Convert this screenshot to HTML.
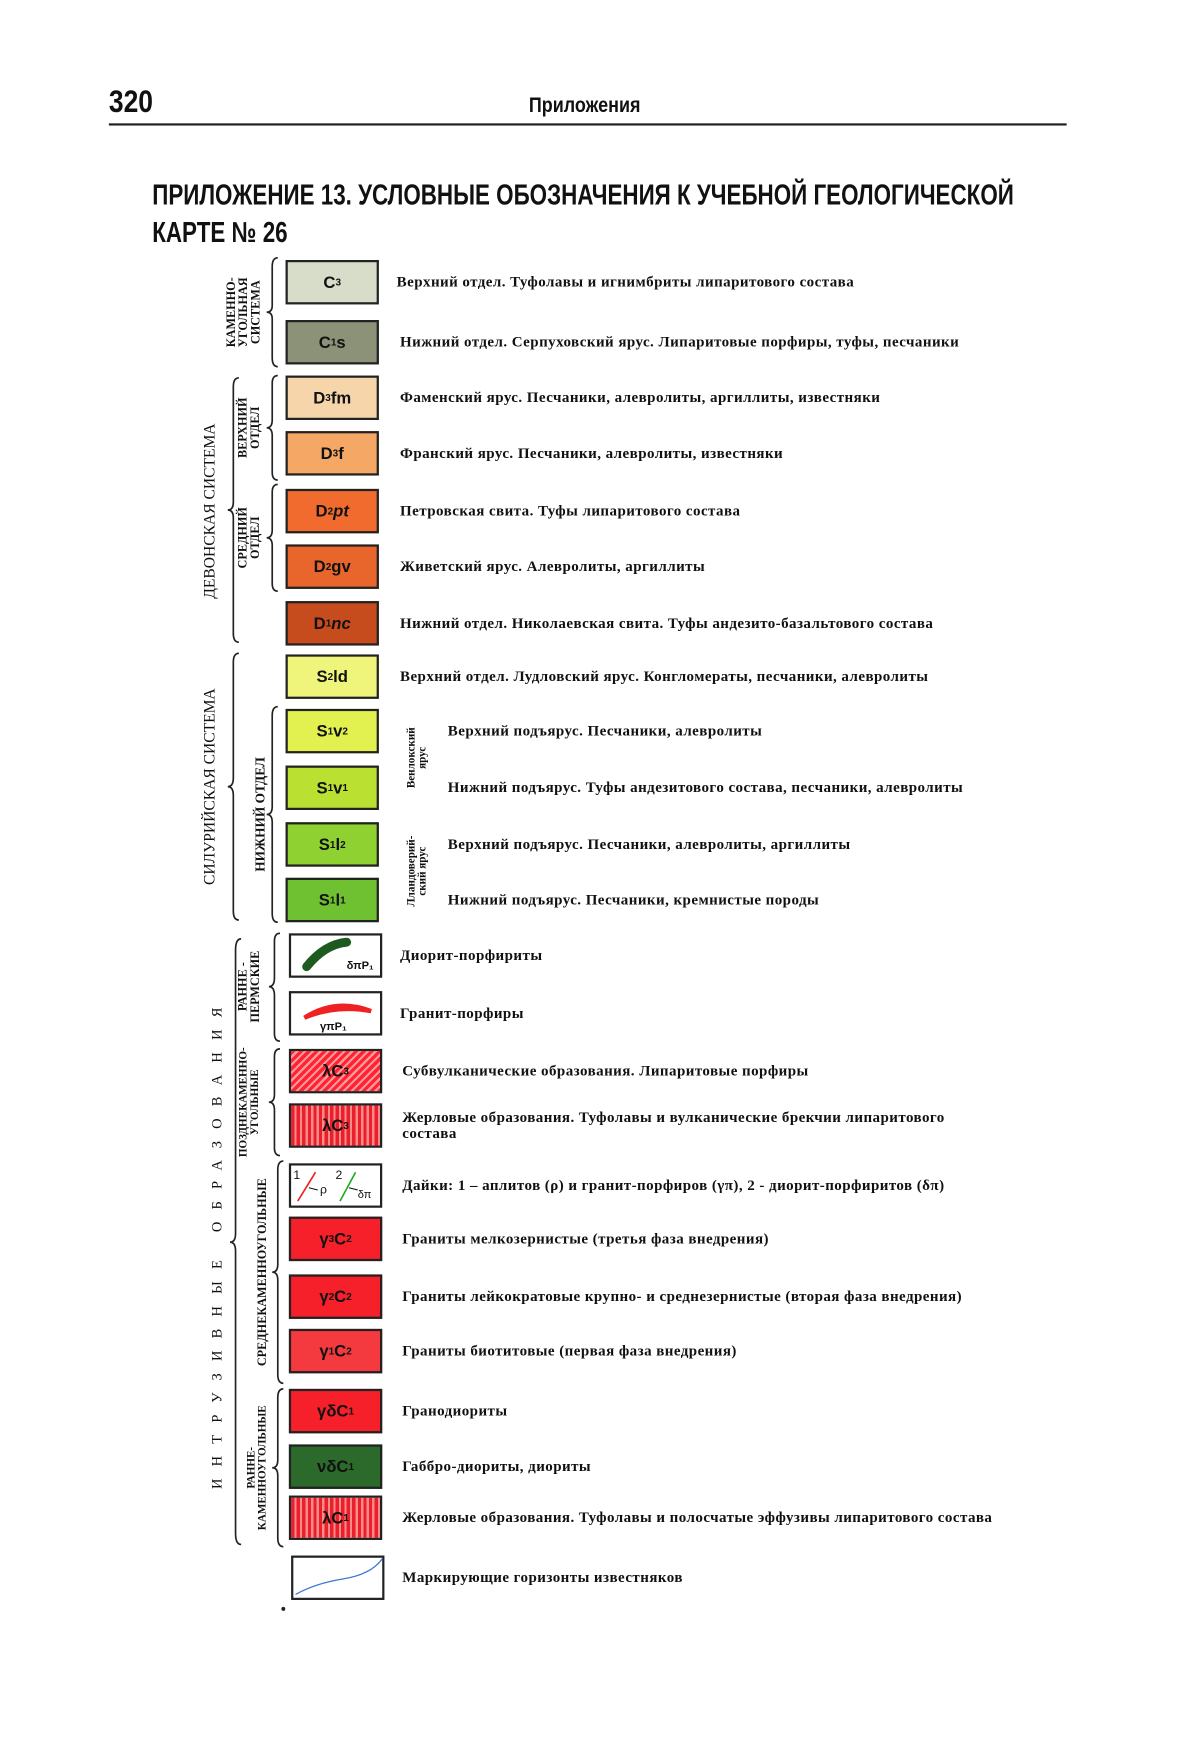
<!DOCTYPE html>
<html><head><meta charset="utf-8"><style>
body{margin:0;background:#fff;width:1200px;height:1747px;overflow:hidden;position:relative}
#w{position:absolute;left:0;top:0;width:1080px;height:1573px;transform:scale(1.1111);transform-origin:0 0;font-family:"Liberation Serif","DejaVu Serif",serif}
.a{position:absolute;white-space:nowrap}
.sw{position:absolute;width:84px;height:40px;border:2px solid #222;box-sizing:border-box;font:bold 15px "Liberation Sans",sans-serif;display:flex;align-items:center;justify-content:center;color:#111}
.sw sub{font-size:9px;vertical-align:-3px}
.t{position:absolute;font-weight:bold;font-size:13.5px;letter-spacing:.4px;color:#111;white-space:nowrap;transform:translateY(-50%)}
.v{position:absolute;font-weight:bold;color:#111;white-space:nowrap;text-align:center;transform:translate(-50%,-50%) rotate(-90deg);line-height:1.0}
.h{font-family:"Liberation Sans",sans-serif;font-weight:bold;color:#111}
</style></head><body><div id="w">
<div class="a h" style="left:98px;top:76px;font-size:28px;transform:scaleX(.85);transform-origin:0 0">320</div>
<div class="a h" style="left:476px;top:85px;font-size:19px;transform:scaleX(.85);transform-origin:0 0">Приложения</div>
<div class="a" style="left:98px;top:111px;width:862px;height:2px;background:#222"></div>
<div class="a h" style="left:137px;top:158px;font-size:26px;line-height:34px;transform:scaleX(.775);transform-origin:0 0;white-space:nowrap">ПРИЛОЖЕНИЕ 13. УСЛОВНЫЕ ОБОЗНАЧЕНИЯ К УЧЕБНОЙ ГЕОЛОГИЧЕСКОЙ<br>КАРТЕ № 26</div>

<svg class="a" style="left:0;top:0" width="1080" height="1573" fill="none" stroke="#222" stroke-width="1.5">
<path d="M250 232 Q245 232 245 240 L245 275 Q245 281 240 281 Q245 281 245 287 L245 322 Q245 330 250 330"/>
<path d="M215 340 Q210 340 210 348 L210 452 Q210 459 205 459 Q210 459 210 466 L210 570 Q210 578 215 578"/>
<path d="M250 338 Q245 338 245 345 L245 378 Q245 385 240 385 Q245 385 245 392 L245 425 Q245 432 250 432"/>
<path d="M250 436 Q245 436 245 443 L245 477 Q245 484 240 484 Q245 484 245 491 L245 525 Q245 532 250 532"/>
<path d="M215 588 Q210 588 210 596 L210 700 Q210 708 205 708 Q210 708 210 716 L210 820 Q210 828 215 828"/>
<path d="M250 636 Q245 636 245 644 L245 726 Q245 733 240 733 Q245 733 245 740 L245 822 Q245 830 250 830"/>
<path d="M217 845 Q212 845 212 855 L212 1110 Q212 1118 207 1118 Q212 1118 212 1126 L212 1380 Q212 1390 217 1390"/>
<path d="M252 840 Q247 840 247 847 L247 880 Q247 888 242 888 Q247 888 247 896 L247 930 Q247 937 252 937"/>
<path d="M252 944 Q247 944 247 951 L247 985 Q247 992 242 992 Q247 992 247 999 L247 1033 Q247 1040 252 1040"/>
<path d="M255 1045 Q250 1045 250 1053 L250 1138 Q250 1145 245 1145 Q250 1145 250 1152 L250 1237 Q250 1245 255 1245"/>
<path d="M255 1250 Q250 1250 250 1258 L250 1314 Q250 1321 245 1321 Q250 1321 250 1328 L250 1384 Q250 1392 255 1392"/>
<circle cx="255" cy="1448" r="1" fill="#222"/>
</svg>

<div class="v" style="left:220px;top:281px;font-size:11px">КАМЕННО-<br>УГОЛЬНАЯ<br>СИСТЕМА</div>
<div class="v" style="left:190px;top:460px;font-size:14px;font-weight:normal">ДЕВОНСКАЯ СИСТЕМА</div>
<div class="v" style="left:225px;top:385px;font-size:11px">ВЕРХНИЙ<br>ОТДЕЛ</div>
<div class="v" style="left:225px;top:484px;font-size:11px">СРЕДНИЙ<br>ОТДЕЛ</div>
<div class="v" style="left:190px;top:708px;font-size:14px;font-weight:normal">СИЛУРИЙСКАЯ СИСТЕМА</div>
<div class="v" style="left:234px;top:733px;font-size:12px">НИЖНИЙ ОТДЕЛ</div>
<div class="v" style="left:376px;top:682px;font-size:10px">Венлокский<br>ярус</div>
<div class="v" style="left:376px;top:784px;font-size:10px">Лландоверий-<br>ский ярус</div>
<div class="v" style="left:195px;top:1118px;font-size:13px;font-weight:normal;letter-spacing:11px">ИНТРУЗИВНЫЕ ОБРАЗОВАНИЯ</div>
<div class="v" style="left:225px;top:888px;font-size:11px">РАННЕ -<br>ПЕРМСКИЕ</div>
<div class="v" style="left:225px;top:992px;font-size:10px">ПОЗДНЕКАМЕННО-<br>УГОЛЬНЫЕ</div>
<div class="v" style="left:237px;top:1145px;font-size:11px">СРЕДНЕКАМЕННОУГОЛЬНЫЕ</div>
<div class="v" style="left:232px;top:1321px;font-size:10px">РАННЕ-<br>КАМЕННОУГОЛЬНЫЕ</div>

<div class="sw" style="left:257px;top:234px;background:#d8ddc9">C<sub>3</sub></div>
<div class="sw" style="left:257px;top:288px;background:#8b9277">C<sub>1</sub>s</div>
<div class="sw" style="left:257px;top:338px;background:#f7d5ab">D<sub>3</sub>fm</div>
<div class="sw" style="left:257px;top:388px;background:#f5a766">D<sub>3</sub>f</div>
<div class="sw" style="left:257px;top:440px;background:#f26b2e">D<sub>2</sub><i>pt</i></div>
<div class="sw" style="left:257px;top:490px;background:#e8662c">D<sub>2</sub>gv</div>
<div class="sw" style="left:257px;top:541px;background:#c64b1d">D<sub>1</sub><i>nc</i></div>
<div class="sw" style="left:257px;top:589px;background:#eff47b">S<sub>2</sub>ld</div>
<div class="sw" style="left:257px;top:638px;background:#e3f150">S<sub>1</sub>v<sub>2</sub></div>
<div class="sw" style="left:257px;top:689px;background:#bae131">S<sub>1</sub>v<sub>1</sub></div>
<div class="sw" style="left:257px;top:740px;background:#8fd131">S<sub>1</sub>l<sub>2</sub></div>
<div class="sw" style="left:257px;top:790px;background:#70c132">S<sub>1</sub>l<sub>1</sub></div>

<div class="sw" style="left:260px;top:840px;background:#fff"><svg width="80" height="36"><path d="M14 28 Q30 8 50 6" stroke="#1e5a1e" stroke-width="8" stroke-linecap="round" fill="none"/><text x="50" y="30" font-size="10" fill="#111">δπP₁</text></svg></div>
<div class="sw" style="left:260px;top:892px;background:#fff"><svg width="80" height="36"><path d="M12 22 Q40 4 72 16 Q40 10 12 22Z" fill="#e22" stroke="#e22" stroke-width="4"/><text x="26" y="33" font-size="10" fill="#111">γπP₁</text></svg></div>
<div class="sw" style="left:260px;top:944px;background:repeating-linear-gradient(135deg,#f23 0 3px,#f99 3px 5px)">λC<sub>3</sub></div>
<div class="sw" style="left:260px;top:993px;background:repeating-linear-gradient(90deg,#e8202c 0 3px,#f88 3px 5px)">λC<sub>3</sub></div>
<div class="sw" style="left:260px;top:1047px;background:#fff;font-size:11px;font-weight:normal"><svg width="80" height="36"><path d="M6 32 L22 6" stroke="#e22" stroke-width="1.5"/><path d="M44 32 L58 6" stroke="#2a2" stroke-width="1.5"/><path d="M16 20 L24 22 M52 20 L60 22" stroke="#111"/><text x="2" y="12" font-size="11" fill="#111">1</text><text x="26" y="25" font-size="11" fill="#111">ρ</text><text x="40" y="12" font-size="11" fill="#111">2</text><text x="60" y="29" font-size="10" fill="#111">δπ</text></svg></div>
<div class="sw" style="left:260px;top:1095px;background:#f5202a">γ<sub>3</sub>C<sub>2</sub></div>
<div class="sw" style="left:260px;top:1147px;background:#f5202a">γ<sub>2</sub>C<sub>2</sub></div>
<div class="sw" style="left:260px;top:1196px;background:#f43a3f">γ<sub>1</sub>C<sub>2</sub></div>
<div class="sw" style="left:260px;top:1250px;background:#f5202a">γδC<sub>1</sub></div>
<div class="sw" style="left:260px;top:1300px;background:#2b6a2b">νδC<sub>1</sub></div>
<div class="sw" style="left:260px;top:1346px;background:repeating-linear-gradient(90deg,#e8202c 0 3px,#f88 3px 5px)">λC<sub>1</sub></div>
<div class="sw" style="left:262px;top:1400px;background:#fff"><svg width="80" height="38"><path d="M2 34 Q20 24 45 20 Q70 16 80 2" stroke="#3a7ad0" stroke-width="1.2" fill="none"/></svg></div>

<div class="t" style="left:357px;top:254px">Верхний отдел. Туфолавы и игнимбриты липаритового состава</div>
<div class="t" style="left:360px;top:308px">Нижний отдел. Серпуховский ярус. Липаритовые порфиры, туфы, песчаники</div>
<div class="t" style="left:360px;top:358px">Фаменский ярус. Песчаники, алевролиты, аргиллиты, известняки</div>
<div class="t" style="left:360px;top:408px">Франский ярус. Песчаники, алевролиты, известняки</div>
<div class="t" style="left:360px;top:460px">Петровская свита. Туфы липаритового состава</div>
<div class="t" style="left:360px;top:510px">Живетский ярус. Алевролиты, аргиллиты</div>
<div class="t" style="left:360px;top:561px">Нижний отдел. Николаевская свита. Туфы андезито-базальтового состава</div>
<div class="t" style="left:360px;top:609px">Верхний отдел. Лудловский ярус. Конгломераты, песчаники, алевролиты</div>
<div class="t" style="left:403px;top:658px">Верхний подъярус. Песчаники, алевролиты</div>
<div class="t" style="left:403px;top:709px">Нижний подъярус. Туфы андезитового состава, песчаники, алевролиты</div>
<div class="t" style="left:403px;top:760px">Верхний подъярус. Песчаники, алевролиты, аргиллиты</div>
<div class="t" style="left:403px;top:810px">Нижний подъярус. Песчаники, кремнистые породы</div>
<div class="t" style="left:360px;top:860px">Диорит-порфириты</div>
<div class="t" style="left:360px;top:912px">Гранит-порфиры</div>
<div class="t" style="left:362px;top:964px">Субвулканические образования. Липаритовые порфиры</div>
<div class="t" style="left:362px;top:1013px;line-height:14px">Жерловые образования. Туфолавы и вулканические брекчии липаритового<br>состава</div>
<div class="t" style="left:362px;top:1067px">Дайки: 1 – аплитов (ρ) и гранит-порфиров (γπ), 2 - диорит-порфиритов (δπ)</div>
<div class="t" style="left:362px;top:1115px">Граниты мелкозернистые (третья фаза внедрения)</div>
<div class="t" style="left:362px;top:1167px">Граниты лейкократовые крупно- и среднезернистые (вторая фаза внедрения)</div>
<div class="t" style="left:362px;top:1216px">Граниты биотитовые (первая фаза внедрения)</div>
<div class="t" style="left:362px;top:1270px">Гранодиориты</div>
<div class="t" style="left:362px;top:1320px">Габбро-диориты, диориты</div>
<div class="t" style="left:362px;top:1366px">Жерловые образования. Туфолавы и полосчатые эффузивы липаритового состава</div>
<div class="t" style="left:362px;top:1420px">Маркирующие горизонты известняков</div>
</div></body></html>
